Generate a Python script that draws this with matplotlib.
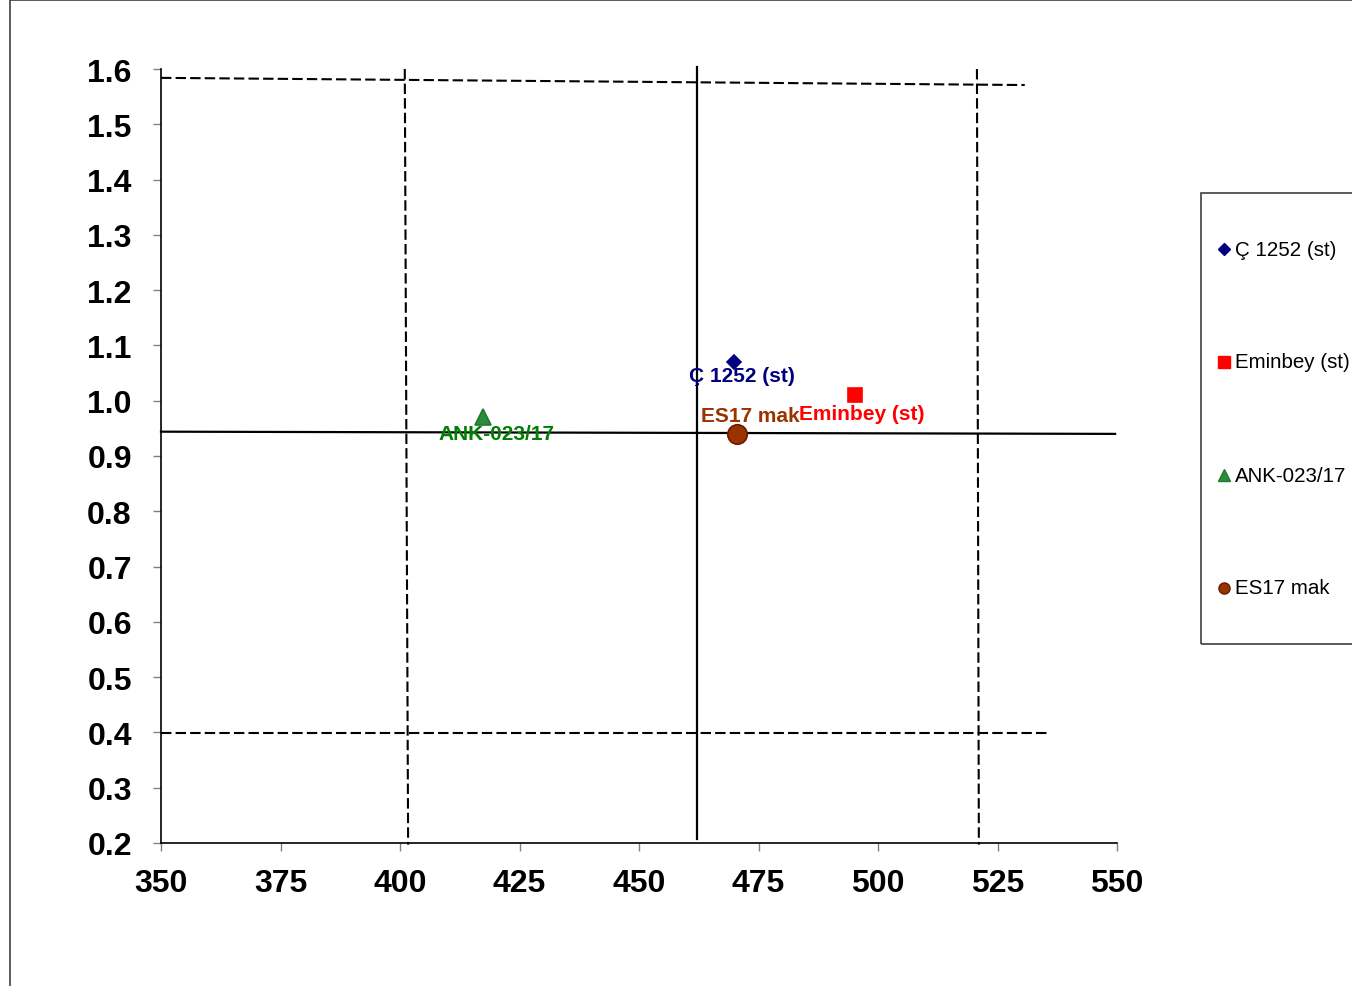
#!/usr/bin/env python3
"""Scatter of four genotypes with reference lines (mean and limits)."""

import matplotlib

matplotlib.use("Agg")
import matplotlib.pyplot as plt
from matplotlib.lines import Line2D
from matplotlib.patches import Rectangle

plt.rcParams["font.family"] = ["Liberation Sans", "DejaVu Sans"]

# series: name, x, y
names = ["Ç 1252 (st)", "Eminbey (st)", "ANK-023/17", "ES17 mak"]
x_vals = [469.9, 495.2, 417.4, 470.5]
y_vals = [1.07, 1.01, 0.97, 0.94]

# reference lines (x0, x1, y0, y1)
solid_lines = [
    ([462.1, 462.1], [1.604, 0.207]),
    ([350.0, 549.6], [0.944, 0.940]),
]
dashed_lines = [
    ([401.0, 401.7], [1.600, 0.197]),
    ([520.7, 521.1], [1.600, 0.197]),
    ([350.0, 530.7], [1.584, 1.571]),
    ([350.0, 535.4], [0.399, 0.399]),
]

x_ticks = [350, 375, 400, 425, 450, 475, 500, 525, 550]
y_ticks = [0.2, 0.3, 0.4, 0.5, 0.6, 0.7, 0.8, 0.9, 1.0, 1.1, 1.2, 1.3, 1.4, 1.5, 1.6]

markers = ["D", "s", "^", "o"]
face_colors = ["#000080", "#FF0000", "#2E8B3E", "#993300"]
edge_colors = ["#000080", "#FF0000", "#1E7B2E", "#6B1A00"]
marker_sizes = [7, 10, 11, 14]
legend_marker_sizes = [6, 8, 8, 8]
label_colors = ["#000080", "#FF0000", "#008000", "#993300"]
# label offsets in pixels from the point
label_offsets = [(8, -13), (7, -18), (13, -16), (13, 18)]

fig = plt.figure(figsize=(13.52, 9.87), dpi=100)
fig.patches.append(
    Rectangle((10 / 1352, -0.05), 1.1, 1.05 - 1 / 987, transform=fig.transFigure,
              fill=False, edgecolor="#404040", linewidth=1.2)
)
ax = fig.add_axes([161 / 1352, 143 / 987, 956 / 1352, 774 / 987])

for xs, ys in solid_lines:
    ax.plot(xs, ys, color="black", linewidth=1.6, clip_on=False, zorder=2)
for xs, ys in dashed_lines:
    ax.plot(xs, ys, color="black", linewidth=1.5, linestyle=(0, (5, 2)), clip_on=False, zorder=2)

handles = []
for name, x, y, m, fc, ec, ms, lc, off in zip(
    names, x_vals, y_vals, markers, face_colors, edge_colors, marker_sizes, label_colors, label_offsets
):
    (h,) = ax.plot([x], [y], linestyle="none", marker=m, markersize=ms, markerfacecolor=fc,
                   markeredgecolor=ec, markeredgewidth=1.2, label=name, zorder=4, clip_on=False)
    handles.append(h)
    ax.annotate(name, (x, y), xytext=off, textcoords="offset pixels", ha="center", va="center",
                fontsize=15, fontweight="bold", color=lc, zorder=5)

ax.set_xlim(350, 550)
ax.set_ylim(0.2, 1.6)
ax.set_xticks(x_ticks)
ax.set_yticks(y_ticks)
ax.set_xticklabels([str(v) for v in x_ticks])
ax.set_yticklabels([f"{v:.1f}" for v in y_ticks])
ax.tick_params(axis="both", direction="out", length=6, width=1, color="#808080",
               labelsize=23, pad=12)
for lab in ax.get_xticklabels() + ax.get_yticklabels():
    lab.set_fontweight("bold")
ax.tick_params(axis="y", pad=15)
ax.spines["top"].set_visible(False)
ax.spines["right"].set_visible(False)
for side in ("left", "bottom"):
    ax.spines[side].set_linewidth(1.2)

# legend box, running off the right edge
fig.patches.append(
    Rectangle((1201 / 1352, 342 / 987), 0.2, 451 / 987, transform=fig.transFigure,
              fill=False, edgecolor="#404040", linewidth=1.2)
)
leg_rows = [250, 363, 476, 589]
for h, name, row, lms in zip(handles, names, leg_rows, legend_marker_sizes):
    yf = 1 - row / 987
    fig.lines.append(
        Line2D([1224 / 1352], [yf], transform=fig.transFigure, linestyle="none",
               marker=h.get_marker(), markersize=lms,
               markerfacecolor=h.get_markerfacecolor(),
               markeredgecolor=h.get_markeredgecolor())
    )
    fig.text(1235 / 1352, yf, name, fontsize=14.8, va="center", ha="left", color="black")

fig.savefig("out.png", dpi=100)
